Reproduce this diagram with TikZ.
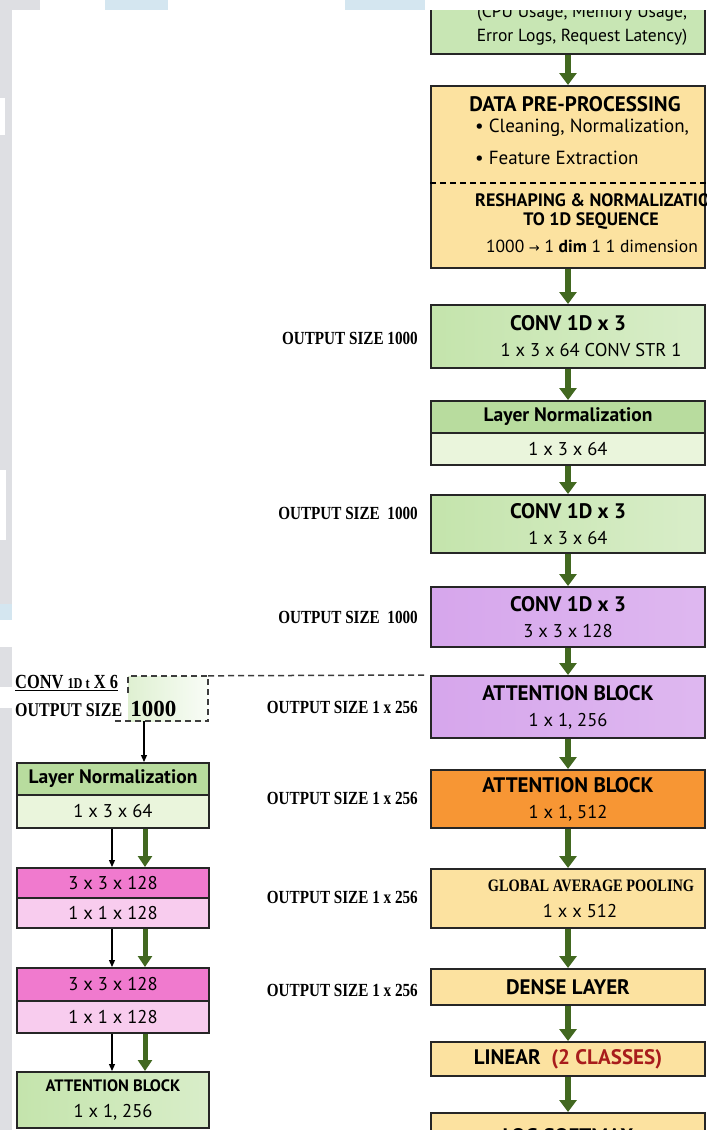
\documentclass[tikz,border=0pt]{standalone}
\usepackage{fontspec}
\setmainfont{PT Sans}
\newfontfamily\labelfont[FakeStretch=0.82]{Liberation Serif}
\newfontfamily\numfont{Liberation Serif}
\newfontfamily\symfont{DejaVu Sans}
\usepackage{tikz}
\usetikzlibrary{arrows.meta}

\definecolor{inputgreen}{RGB}{200,230,180}
\definecolor{boxgreen}{RGB}{196,228,172}
\definecolor{darkgreen}{RGB}{184,220,158}
\definecolor{lightgreen}{RGB}{234,245,220}
\definecolor{boxyellow}{RGB}{252,226,160}
\definecolor{boxpurple}{RGB}{214,166,236}
\definecolor{boxorange}{RGB}{247,150,52}
\definecolor{pinkdark}{RGB}{240,122,206}
\definecolor{pinklight}{RGB}{248,204,238}
\definecolor{arrowgreen}{RGB}{66,104,32}
\definecolor{classred}{RGB}{168,28,28}
\definecolor{dashgray}{RGB}{60,60,60}
\definecolor{markgray}{RGB}{222,223,227}
\definecolor{markblue}{RGB}{212,230,240}

\newcommand{\boxtitle}[1]{{\bfseries\fontsize{21}{26}\selectfont #1}}

\tikzset{
  box/.style={draw=black!85, line width=2pt, minimum width=274pt, inner sep=0pt,
    align=center, font=\fontsize{18.5}{26}\selectfont},
  smallbox/.style={box, minimum width=192pt},
  greenbox/.style={left color=boxgreen, right color=boxgreen!65!white},
  purplebox/.style={left color=boxpurple, right color=boxpurple!80!white},
  yellowbox/.style={fill=boxyellow},
  sizelabel/.style={anchor=east, inner sep=0pt, font=\labelfont\bfseries\fontsize{18.5}{20}\selectfont},
  flow/.style={draw=arrowgreen, line width=6pt, -{Triangle[length=12pt,width=17pt]}},
  smallflow/.style={draw=arrowgreen, line width=5pt, -{Triangle[length=11pt,width=14pt]}},
  thinflow/.style={draw=black, line width=1.2pt, -{Triangle[length=7pt,width=6pt]}},
  dashline/.style={draw=dashgray, line width=1.5pt, dash pattern=on 6pt off 4pt}
}

\begin{document}
\begin{tikzpicture}[x=1pt,y=-1pt]
\useasboundingbox (0,0) rectangle (716,1130);
\fill[white] (0,0) rectangle (716,1130);
% watermark round the page
\fill[markgray] (0,0) rectangle (12,1130);
\fill[markgray] (0,0) -- (40,0) -- (40,10) -- (0,10) -- cycle;
\fill[markblue] (105,0) rectangle (168,10);
\fill[markblue] (345,0) rectangle (425,10);
\fill[markblue] (0,604) rectangle (12,620);
\fill[white] (0,620) rectangle (12,647);
\fill[white] (0,687) rectangle (12,708);
\fill[white] (0,98) rectangle (5,135);
\fill[white] (0,470) rectangle (6,540);

\begin{scope}
\clip (12,10) rectangle (706,1130);

% main column
\node (input) at (568,25) [box, fill=inputgreen, minimum height=58pt] {};
\node (inputtxt) at (582,25) [align=center, inner sep=0pt, font=\fontsize{17.5}{24}\selectfont] {(CPU Usage, Memory Usage,\\Error Logs, Request Latency)};

\node (prep) at (568,177) [box, yellowbox, minimum height=182pt] {};
\draw[line width=1.5pt, dash pattern=on 6pt off 4pt] ([yshift=-6pt]prep.west) -- ([yshift=-6pt]prep.east);
\node (prepT) at (575,104) [inner sep=0pt] {\boxtitle{DATA PRE-PROCESSING}};
\node (prepA) at (475,128) [anchor=west, inner sep=0pt, font=\fontsize{19}{22}\selectfont] {\textbullet\ Cleaning, Normalization,};
\node (prepB) at (475,158) [anchor=west, inner sep=0pt, font=\fontsize{19}{22}\selectfont] {\textbullet\ Feature Extraction};
\node (prepC) at (475,200) [anchor=west, inner sep=0pt, font=\bfseries\fontsize{18}{20}\selectfont] {RESHAPING \& NORMALIZATION};
\node (prepD) at (591,221) [inner sep=0pt, font=\bfseries\fontsize{18}{20}\selectfont] {TO 1D SEQUENCE};
\node (prepE) at (592,246) [inner sep=0pt, font=\fontsize{17.5}{20}\selectfont] {1000 {\symfont\fontsize{13}{14}\selectfont →} 1 \textbf{dim} 1 1 dimension};

\node (conv1) at (568,336.5) [box, greenbox, minimum height=63pt] {\boxtitle{CONV 1D x 3}\\\hspace*{46pt}1 x 3 x 64 CONV STR 1};
\node (lnormA) at (568,417) [box, fill=darkgreen, minimum height=32pt] {{\bfseries\fontsize{19.5}{26}\selectfont Layer Normalization}};
\node (lnormB) at (568,449) [box, fill=lightgreen, minimum height=32pt] {1 x 3 x 64};
\node (conv2) at (568,524) [box, greenbox, minimum height=58pt] {\boxtitle{CONV 1D x 3}\\1 x 3 x 64};
\node (conv3) at (568,617) [box, purplebox, minimum height=60pt] {\boxtitle{CONV 1D x 3}\\3 x 3 x 128};
\node (attn1) at (568,707) [box, purplebox, minimum height=62pt] {\boxtitle{ATTENTION BLOCK}\\1 x 1, 256};
\node (attn2) at (568,799) [box, fill=boxorange, minimum height=58pt] {\boxtitle{ATTENTION BLOCK}\\1 x 1, 512};
\node (gap) at (568,898.5) [box, yellowbox, minimum height=59pt] {\hspace*{46pt}{\labelfont\bfseries\fontsize{17.5}{24}\selectfont GLOBAL AVERAGE POOLING}\\\hspace*{24pt}1 x x 512};
\node (dense) at (568,987) [box, yellowbox, minimum height=36pt] {\boxtitle{DENSE LAYER}};
\node (linear) at (568,1059) [box, yellowbox, minimum height=34pt] {\boxtitle{LINEAR\ \ \textcolor{classred}{(2 CLASSES)}}};
\node (softmax) at (568,1136) [box, yellowbox, minimum height=46pt] {\boxtitle{LOG SOFTMAX}};

\draw[flow] (input.south) -- (prep.north);
\draw[flow] (prep.south) -- (conv1.north);
\draw[flow] (conv1.south) -- (lnormA.north);
\draw[flow] (lnormB.south) -- (conv2.north);
\draw[flow] (conv2.south) -- (conv3.north);
\draw[flow] (conv3.south) -- (attn1.north);
\draw[flow] (attn1.south) -- (attn2.north);
\draw[flow] (attn2.south) -- (gap.north);
\draw[flow] (gap.south) -- (dense.north);
\draw[flow] (dense.south) -- (linear.north);
\draw[flow] (linear.south) -- (softmax.north);

% output sizes
\node (out1) at (418,338) [sizelabel] {OUTPUT SIZE 1000};
\node (out2) at (418,513) [sizelabel] {OUTPUT SIZE\ \ 1000};
\node (out3) at (418,617) [sizelabel] {OUTPUT SIZE\ \ 1000};
\node (out4) at (418,707) [sizelabel] {OUTPUT SIZE 1 x 256};
\node (out5) at (418,798) [sizelabel] {OUTPUT SIZE 1 x 256};
\node (out6) at (418,897) [sizelabel] {OUTPUT SIZE 1 x 256};
\node (out7) at (418,990) [sizelabel] {OUTPUT SIZE 1 x 256};

% side branch
\node (grp) at (168,698.5) [minimum width=80pt, minimum height=45pt, inner sep=0pt,
  left color=boxgreen!55!white, right color=boxgreen!10!white] {};
\draw[dashline] ([xshift=-13pt]grp.south west) -- (grp.south east) -- (grp.north east) -- (grp.north west) -- ([yshift=-17pt]grp.north west);
\draw[dashline] (grp.north east) -- ([xshift=-6pt]attn1.north west);
\node (convsix) at (15,688) [anchor=base west, inner sep=0pt, font=\labelfont\bfseries\fontsize{20}{22}\selectfont] {\underline{CONV {\fontsize{15}{16}\selectfont 1D t} X 6}};
\node (outsix) at (15,716) [anchor=base west, inner sep=0pt, font=\labelfont\bfseries\fontsize{19.5}{22}\selectfont] {OUTPUT SIZE\ \ {\numfont\bfseries\fontsize{23}{24}\selectfont 1000}};

\node (lnormLA) at (113,779) [smallbox, fill=darkgreen, minimum height=32pt] {{\bfseries\fontsize{19.5}{26}\selectfont Layer Normalization}};
\node (lnormLB) at (113,811.5) [smallbox, fill=lightgreen, minimum height=33pt] {1 x 3 x 64};
\node (pinkA) at (113,883) [smallbox, fill=pinkdark, minimum height=30pt] {3 x 3 x 128};
\node (pinkB) at (113,913) [smallbox, fill=pinklight, minimum height=30pt] {1 x 1 x 128};
\node (pinkC) at (113,984.5) [smallbox, fill=pinkdark, minimum height=33pt] {3 x 3 x 128};
\node (pinkD) at (113,1017) [smallbox, fill=pinklight, minimum height=32pt] {1 x 1 x 128};
\node (attnL) at (113,1100) [smallbox, greenbox, minimum height=56pt] {{\bfseries\fontsize{16.5}{24}\selectfont ATTENTION BLOCK}\\1 x 1, 256};

\draw[thinflow] ([xshift=-24pt]grp.south) -- ([xshift=31pt]lnormLA.north);
\draw[thinflow] ([xshift=-1pt]lnormLB.south) -- ([xshift=-1pt]pinkA.north);
\draw[smallflow] ([xshift=32pt]lnormLB.south) -- ([xshift=32pt]pinkA.north);
\draw[thinflow] ([xshift=-1pt]pinkB.south) -- ([xshift=-1pt]pinkC.north);
\draw[smallflow] ([xshift=32pt]pinkB.south) -- ([xshift=32pt]pinkC.north);
\draw[thinflow] ([xshift=-1pt]pinkD.south) -- ([xshift=-1pt]attnL.north);
\draw[smallflow] ([xshift=32pt]pinkD.south) -- ([xshift=32pt]attnL.north);
\end{scope}
\end{tikzpicture}
\end{document}
